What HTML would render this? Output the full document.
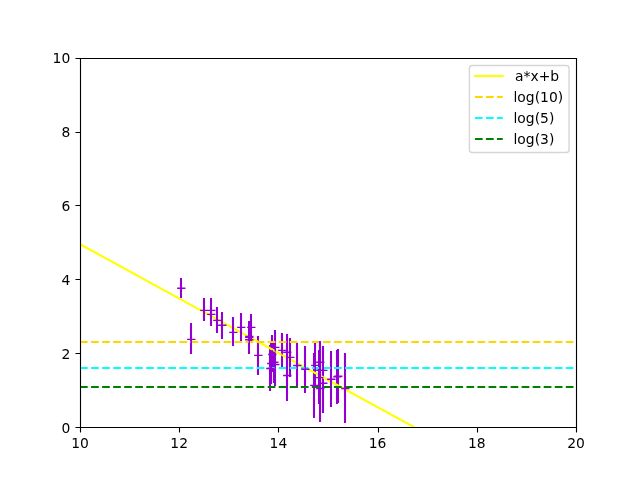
<!DOCTYPE html>
<html lang="en"><head><meta charset="utf-8"><title>plot</title>
<style>html,body{margin:0;padding:0;background:#fff;overflow:hidden}svg{display:block}</style>
</head><body>
<svg width="640" height="480" viewBox="0 0 640 480" style="display:block">
<rect x="0" y="0" width="640" height="480" fill="#ffffff"/>
<clipPath id="ax"><rect x="80" y="57.6" width="496" height="369.6"/></clipPath>
<g clip-path="url(#ax)" fill="none">
<path d="M258 336V375M270 345V391M271 343V384M272 335V372M274 342V383M275 330V365M275 343V386M282 333V367M287 334V370M314 353V418M315 343V388M323 346V395M323 354V413M337 350V404M338 349V403" stroke="#9400d3" stroke-width="2.083"/>
<path d="M80 244.2 L576 515.798" stroke="#ffff00" stroke-width="2.083" stroke-linecap="square"/>
<path d="M181 278V298M191 323V354M204 298V321M211 298V322M211 303V326M217 307V333M222 312V339M233 317V346M241 313V341M251 314V341M249 321V352M249 322V353M249 326V354M290 338V377M297 343V388M305 346V393M319 350V404M320 350V391M320 355V422M331 351V407M345 353V423" stroke="#9400d3" stroke-width="2.083"/>
<path d="M80 342 H576" stroke="#ffd700" stroke-width="2.083" stroke-dasharray="7.708,3.333"/>
<path d="M80 368 H576" stroke="#00ffff" stroke-width="2.083" stroke-dasharray="7.708,3.333"/>
<path d="M80 387 H576" stroke="#008000" stroke-width="2.083" stroke-dasharray="7.708,3.333"/>
<path d="M287 350V401M320 341V384" stroke="#9400d3" stroke-width="2.083"/>
<path d="M177.133 288.3H185.467M181.3 284.133V292.467M187.133 339.4H195.467M191.3 335.233V343.567M200.133 310.4H208.467M204.3 306.233V314.567M207.133 310.4H215.467M211.3 306.233V314.567M207.133 314.4H215.467M211.3 310.233V318.567M213.133 320.4H221.467M217.3 316.233V324.567M218.133 325.3H226.467M222.3 321.133V329.467M229.133 332.4H237.467M233.3 328.233V336.567M237.133 327.4H245.467M241.3 323.233V331.567M247.133 327.4H255.467M251.3 323.233V331.567M245.133 336.5H253.467M249.3 332.333V340.667M245.133 337.4H253.467M249.3 333.233V341.567M245.133 339.8H253.467M249.3 335.633V343.967M254.133 355.4H262.467M258.3 351.233V359.567M266.133 368.5H274.467M270.3 364.333V372.667M267.133 363.5H275.467M271.3 359.333V367.667M268.133 354.5H276.467M272.3 350.333V358.667M270.133 362.3H278.467M274.3 358.133V366.467M271.133 347.4H279.467M275.3 343.233V351.567M271.133 364.5H279.467M275.3 360.333V368.667M278.133 350.4H286.467M282.3 346.233V354.567M283.133 352.3H291.467M287.3 348.133V356.467M283.133 375.5H291.467M287.3 371.333V379.667M286.133 357.4H294.467M290.3 353.233V361.567M293.133 365.5H301.467M297.3 361.333V369.667M301.133 369.3H309.467M305.3 365.133V373.467M310.133 385.4H318.467M314.3 381.233V389.567M311.133 365.4H319.467M315.3 361.233V369.567M315.133 377.6H323.467M319.3 373.433V381.767M316.133 362.3H324.467M320.3 358.133V366.467M316.133 370.3H324.467M320.3 366.133V374.467M316.133 388.5H324.467M320.3 384.333V392.667M319.133 370.4H327.467M323.3 366.233V374.567M319.133 383.3H327.467M323.3 379.133V387.467M327.133 379.3H335.467M331.3 375.133V383.467M333.133 376.9H341.467M337.3 372.733V381.067M334.133 376.2H342.467M338.3 372.033V380.367M341.133 388.5H349.467M345.3 384.333V392.667" stroke="#9400d3" stroke-width="1.389"/>
</g>
<path d="M80.5 58.5 V427.5 H576.5 V58.5 Z" fill="none" stroke="#000" stroke-width="1.111" stroke-linejoin="miter"/>
<path d="M80.5 427.5V432.5M179.5 427.5V432.5M278.5 427.5V432.5M378.5 427.5V432.5M477.5 427.5V432.5M576.5 427.5V432.5M75.5 427.5H80.5M75.5 353.5H80.5M75.5 279.5H80.5M75.5 205.5H80.5M75.5 132.5H80.5M75.5 58.5H80.5" fill="none" stroke="#000" stroke-width="1.111"/>
<g font-family="'DejaVu Sans', 'Liberation Sans', sans-serif" font-size="13.889" fill="#000">
<text x="80" y="448.476" text-anchor="middle">10</text>
<text x="179.2" y="448.476" text-anchor="middle">12</text>
<text x="278.4" y="448.476" text-anchor="middle">14</text>
<text x="377.6" y="448.476" text-anchor="middle">16</text>
<text x="476.8" y="448.476" text-anchor="middle">18</text>
<text x="576" y="448.476" text-anchor="middle">20</text>
<text x="70.278" y="433.277" text-anchor="end">0</text>
<text x="70.278" y="358.557" text-anchor="end">2</text>
<text x="70.278" y="284.637" text-anchor="end">4</text>
<text x="70.278" y="210.717" text-anchor="end">6</text>
<text x="70.278" y="136.797" text-anchor="end">8</text>
<text x="70.278" y="62.877" text-anchor="end">10</text>
</g>
<rect x="469.37" y="65.5" width="99.685" height="87" rx="2.778" ry="2.778" fill="#fff" fill-opacity="0.8" stroke="#ccc" stroke-opacity="0.8" stroke-width="1.389"/>
<path d="M474.926 76H502.704" fill="none" stroke="#ffff00" stroke-width="2.083" stroke-linecap="square"/>
<path d="M474.926 97H502.704" fill="none" stroke="#ffd700" stroke-width="2.083" stroke-dasharray="7.708,3.333"/>
<path d="M474.926 118H502.704" fill="none" stroke="#00ffff" stroke-width="2.083" stroke-dasharray="7.708,3.333"/>
<path d="M474.926 139H502.704" fill="none" stroke="#008000" stroke-width="2.083" stroke-dasharray="7.708,3.333"/>
<g font-family="'DejaVu Sans', 'Liberation Sans', sans-serif" font-size="13.889" fill="#000">
<text x="515.015" y="80.861">a*x+b</text>
<text x="513.515" y="101.861">log(10)</text>
<text x="513.515" y="122.861">log(5)</text>
<text x="513.515" y="143.861">log(3)</text>
</g>
</svg>
</body></html>
